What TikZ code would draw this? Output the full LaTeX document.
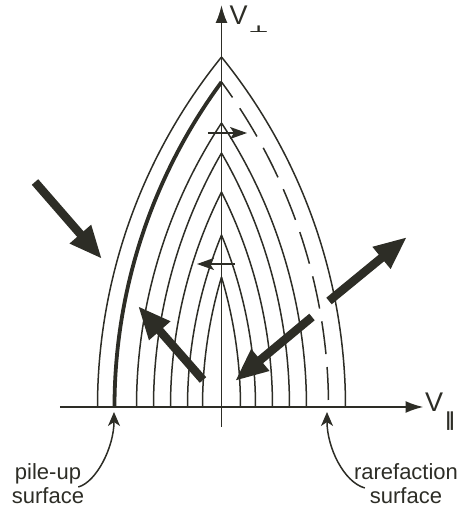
\documentclass[tikz,border=0pt]{standalone}
\usepackage{fontspec}
\setmainfont{Liberation Sans}
\newfontfamily\symfont{DejaVu Sans}
\usepackage{graphicx}
\usetikzlibrary{arrows.meta}
\definecolor{ink}{RGB}{45,45,38}
\begin{document}
\begin{tikzpicture}[x=1pt,y=1pt,
  every node/.style={inner sep=0pt, text=ink},
  curve/.style={draw=ink, line width=1.5pt},
  axisline/.style={draw=ink, line width=1.9pt, -{Latex[length=18pt,width=12pt]}},
  bigarrow/.style={draw=ink, line width=8.5pt, -{Triangle[length=33pt,width=26pt]}},
  smallarrow/.style={draw=ink, line width=1.5pt, -{Stealth[length=17pt,width=12pt,inset=4pt]}},
  pointer/.style={draw=ink, line width=1.5pt, -{Stealth[length=14pt,width=12pt,inset=4pt]}},
  lbl/.style={font=\fontsize{22}{24}\selectfont, align=center},
  axlbl/.style={font=\fontsize{27}{27}\selectfont, anchor=base west}]
\useasboundingbox (-221.5,-104) rectangle (243.5,407);
% arches
\foreach \d/\h in {124/350, 85/284, 68/254, 51/215, 34/172, 19/130}{
  \pgfmathsetmacro\archR{\d/2+(\h/\d)*\h/2}
  \pgfmathsetmacro\archT{asin(\h/\archR)}
  \draw[curve] (-\d,0) arc[start angle=180, end angle=180-\archT, radius=\archR pt];
  \draw[curve] (\d,0) arc[start angle=0, end angle=\archT, radius=\archR pt];
}
% pile-up (thick) and rarefaction (dashed) surfaces
\pgfmathsetmacro\archR{107/2+(325/107)*325/2}
\pgfmathsetmacro\archT{asin(325/\archR)}
\draw[draw=ink, line width=3.8pt] (-107,0) arc[start angle=180, end angle=180-\archT, radius=\archR pt];
\draw[curve, dash pattern=on 33pt off 13pt, dash phase=14pt] (0,325) arc[start angle=\archT, end angle=0, radius=\archR pt];
% axes
\coordinate (xs) at (-161.5,0);
\coordinate (xe) at (202,0);
\coordinate (ys) at (0,-20);
\coordinate (ye) at (0,402);
\draw[axisline] (xs) -- (xe);
\draw[axisline] (ys) -- (ye);
\node[axlbl] (vperp) at (8,382) {V\hspace{1pt}\raisebox{-8pt}{\scalebox{1.3}[0.55]{\fontsize{17}{17}\selectfont\symfont\bfseries ⊥}}};
\node[axlbl] (vpar) at (203.5,-5) {V\hspace{2pt}\raisebox{-15pt}{\fontsize{19}{19}\selectfont\symfont\bfseries ∥}};
% small arrows
\coordinate (s1a) at (-13.5,274);
\coordinate (s1b) at (25.5,274);
\coordinate (s2a) at (13.5,143);
\coordinate (s2b) at (-24.5,143);
\draw[smallarrow] (s1a) -- (s1b);
\draw[smallarrow] (s2a) -- (s2b);
% big arrows
\coordinate (b1a) at (-186.5,225);
\coordinate (b1b) at (-119.5,148);
\coordinate (b2a) at (-18.5,27);
\coordinate (b2b) at (-83.5,101);
\coordinate (b3a) at (90.5,90);
\coordinate (b3b) at (13.5,26);
\coordinate (b4a) at (107.5,106);
\coordinate (b4b) at (185.5,170);
\draw[bigarrow] (b1a) -- (b1b);
\draw[bigarrow] (b2a) -- (b2b);
\draw[bigarrow] (b3a) -- (b3b);
\draw[bigarrow] (b4a) -- (b4b);
% labels
\node[lbl] (pile) at (-173.5,-77) {pile-up\\surface};
\node[lbl] (rare) at (184.5,-77) {rarefaction\\surface};
\coordinate (pu) at (-107.5,-5);
\coordinate (rf) at (105.5,-5);
\draw[pointer] ([xshift=-6pt,yshift=-3pt]pile.east) .. controls (-125,-75) and (-107.5,-40) .. (pu);
\draw[pointer] ([xshift=11pt,yshift=-4pt]rare.west) .. controls (122,-75) and (105.5,-40) .. (rf);
\end{tikzpicture}
\end{document}
